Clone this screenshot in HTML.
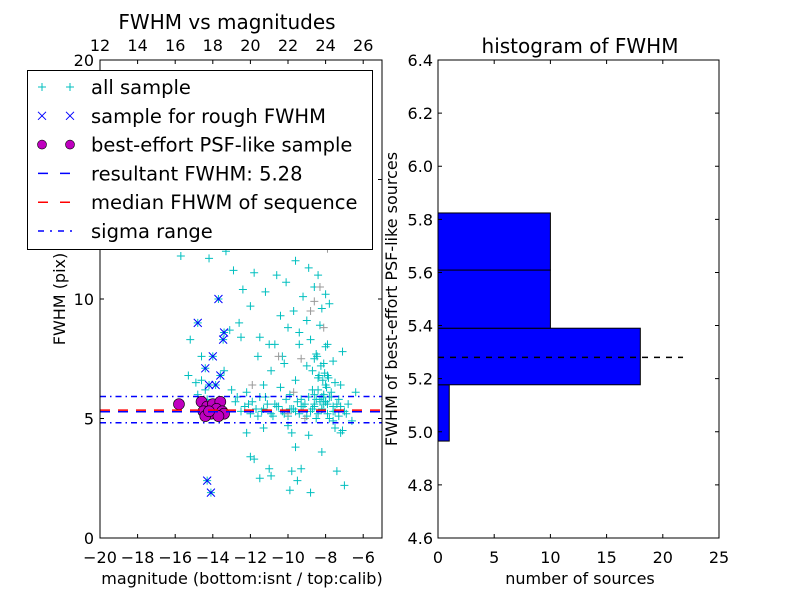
<!DOCTYPE html>
<html><head><meta charset="utf-8"><style>
body{margin:0;background:#fff}
svg{font-family:"DejaVu Sans","Liberation Sans",sans-serif}
</style></head><body>
<svg id="c" width="800" height="600" xmlns="http://www.w3.org/2000/svg"></svg>
<script>
// Left scatter data
const allMag=[-15.7,-14.2,-13.3,-12.9,-12.4,-11.8,-11.2,-10.6,-10.1,-9.6,-9.2,-8.9,-8.6,-8.4,-8.2,-8.0,-7.8,-15.2,-14.6,-14.9,-14.4,-13.1,-12.6,-12.0,-11.5,-11.0,-10.4,-10.0,-9.7,-9.4,-9.0,-8.8,-8.5,-8.3,-8.1,-7.9,-7.6,-8.7,-8.45,-8.35,-8.25,-8.15,-8.05,-7.95,-7.85,-8.6,-8.4,-8.2,-8.0,-7.7,-7.5,-8.5,-8.3,-8.1,-7.9,-7.8,-8.6,-8.2,-8.0,-7.6,-7.3,-6.8,-12.3,-12.0,-11.7,-11.4,-11.1,-10.8,-10.5,-10.2,-9.9,-9.6,-9.3,-9.0,-8.7,-8.4,-8.1,-7.8,-7.5,-7.2,-6.9,-6.6,-12.5,-12.1,-11.6,-11.3,-10.9,-10.6,-10.3,-10.0,-9.7,-9.4,-9.1,-8.8,-8.5,-8.2,-7.9,-7.6,-7.3,-7.0,-11.9,-11.2,-10.7,-10.1,-9.8,-9.5,-9.2,-8.9,-8.6,-8.3,-8.0,-7.7,-7.4,-12.8,-12.2,-11.5,-10.4,-9.9,-9.3,-8.7,-8.1,-7.2,-6.4,-10.9,-9.6,-9.0,-8.4,-7.9,-11.6,-10.2,-9.4,-8.6,-8.0,-7.1,-12.2,-11.3,-10.0,-9.8,-7.6,-7.1,-11.8,-9.6,-9.3,-8.9,-8.2,-7.5,-11.5,-9.8,-8.8,-12.0,-10.9,-9.5,-7.4,-7.0,-11.0,-9.9,-7.2,-13.4,-12.5,-11.3,-10.7,-10.3,-15.3,-14.8,-14.6,-14.3,-13.0,-12.7,-13.7,-14.8,-13.4,-13.45,-14.0,-14.4,-13.6,-14.2,-13.85,-14.3,-14.1];
const allFwhm=[11.8,11.7,12.0,11.2,10.4,11.1,10.3,11.0,10.7,11.6,10.1,11.3,10.5,11.0,9.6,10.2,9.8,8.3,7.6,6.5,6.2,8.7,9.0,9.7,8.4,8.1,9.3,8.8,9.5,8.6,9.1,8.3,7.7,8.9,7.3,8.1,7.4,7.0,7.6,6.8,7.2,6.6,6.9,6.3,6.7,6.0,6.2,5.9,6.4,6.1,6.5,5.8,5.7,6.0,5.6,5.9,5.5,5.4,5.7,5.3,5.8,5.6,5.5,5.2,5.4,5.3,5.6,5.1,5.5,5.2,5.4,5.3,5.5,5.1,5.4,5.2,5.6,5.0,5.3,5.5,5.2,4.9,5.3,5.6,5.1,5.4,5.2,5.5,5.3,5.1,5.4,5.2,5.6,5.3,5.0,5.4,5.2,5.5,5.1,5.3,5.7,5.9,5.6,5.8,5.4,5.7,5.5,5.9,5.6,5.8,5.7,5.9,5.6,5.7,6.1,5.9,6.3,6.0,5.8,6.2,5.9,6.4,6.1,7.0,6.6,7.2,6.7,6.8,7.6,7.3,8.1,7.5,8.0,7.8,4.4,4.6,4.7,4.4,4.9,4.5,3.3,3.8,2.9,4.3,3.6,4.6,2.5,2.8,1.9,3.4,2.6,2.4,2.8,2.2,2.9,2.0,4.4,7.0,8.4,6.4,8.1,7.6,6.8,6.0,6.6,5.8,6.2,5.9,10.0,9.0,8.6,8.3,7.6,7.1,6.8,6.4,6.4,2.4,1.9];
const greyMag=[-13.6,-11.9,-10.5,-9.7,-9.3,-8.8,-8.3,-8.1,-7.9,-9.1,-10.0,-8.6];
const greyFwhm=[5.6,6.4,7.6,6.1,7.5,9.5,10.5,8.8,12.1,5.0,5.2,9.9];
const roughMag=[-13.7,-14.8,-13.4,-13.45,-14.0,-14.4,-13.6,-14.2,-13.85,-14.3,-14.1];
const roughFwhm=[10.0,9.0,8.6,8.3,7.6,7.1,6.8,6.4,6.4,2.4,1.9];
const bestMag=[-15.8,-14.6,-14.3,-14.0,-13.6,-14.5,-14.1,-13.8,-13.5,-14.4,-13.4,-13.7,-14.2];
const bestFwhm=[5.6,5.7,5.5,5.6,5.7,5.3,5.2,5.4,5.3,5.1,5.2,5.1,5.3];
const resultFwhm=5.28, medianFwhm=5.35, sigmaLo=4.82, sigmaHi=5.92;
// histogram data
const binEdges=[4.965,5.177,5.39,5.609,5.824];
const binCounts=[1,18,10,10];
const leftXTicks=[-20,-18,-16,-14,-12,-10,-8,-6];
const leftXLabels=["\u221220","\u221218","\u221216","\u221214","\u221212","\u221210","\u22128","\u22126"];
const topTicks=[12,14,16,18,20,22,24,26];
const leftYTicks=[0,5,10,15,20];
const rightYTicks=[4.6,4.8,5.0,5.2,5.4,5.6,5.8,6.0,6.2,6.4];
const rightXTicks=[0,5,10,15,20,25];

const S=document.getElementById('c');const NS='http://www.w3.org/2000/svg';
function mk(t,a,p){const e=document.createElementNS(NS,t);for(const k in a)e.setAttribute(k,a[k]);(p||S).appendChild(e);return e;}
function tx(x,y,s,str,anchor,extra,p){const e=mk('text',Object.assign({x:x,y:y,'font-size':s,'text-anchor':anchor||'middle',fill:'#000'},extra||{}),p);e.textContent=str;return e;}
// left axes
const L={x0:100,x1:382,y0:60,y1:538};
const lx=v=>L.x0+(v+20)/15*(L.x1-L.x0);
const tX=v=>L.x0+(v-12)/15*(L.x1-L.x0);
const ly=v=>L.y1-v/20*(L.y1-L.y0);
const gL=mk('g',{});

mk('rect',{x:L.x0,y:L.y0,width:L.x1-L.x0,height:L.y1-L.y0,fill:'#fff'},gL);
function plus(g,x,y,c){mk('path',{d:`M${x-4},${y}h8M${x},${y-4}v8`,stroke:c,'stroke-width':1,fill:'none'},g);}
const gA=mk('g',{},gL);
for(let i=0;i<allMag.length;i++)plus(gA,lx(allMag[i]),ly(allFwhm[i]),'#00bfbf');
for(let i=0;i<greyMag.length;i++)plus(gA,lx(greyMag[i]),ly(greyFwhm[i]),'#999');
function hl(v,col,dash,name){const e=mk('line',{x1:L.x0,x2:L.x1,y1:ly(v),y2:ly(v),stroke:col,'stroke-width':1.5,'stroke-dasharray':dash},gL);}
hl(sigmaHi,'#0000ff','6,4,1.5,4','sigma-high-line');hl(sigmaLo,'#0000ff','6,4,1.5,4','sigma-low-line');
const gB=mk('g',{},gL);
for(let i=0;i<bestMag.length;i++)mk('circle',{cx:lx(bestMag[i]),cy:ly(bestFwhm[i]),r:5.5,fill:'#bf00bf',stroke:'#000','stroke-width':0.6},gB);
hl(resultFwhm,'#0000ff','10,8','resultant-fwhm-line');hl(medianFwhm,'#ff0000','10,8','median-fwhm-line');
const gR=mk('g',{},gL);
for(let i=0;i<roughMag.length;i++){const x=lx(roughMag[i]),y=ly(roughFwhm[i]);mk('path',{d:`M${x-4},${y-4}l8,8M${x-4},${y+4}l8,-8`,stroke:'#0000ff','stroke-width':1,fill:'none'},gR);}
mk('rect',{x:L.x0,y:L.y0,width:L.x1-L.x0,height:L.y1-L.y0,fill:'none',stroke:'#000','stroke-width':1},gL);
leftXTicks.forEach((v,i)=>{const x=lx(v);mk('path',{d:`M${x},${L.y1}v-4`,stroke:'#000'},gL);tx(x,563,16,leftXLabels[i]);});
topTicks.forEach(v=>{const x=tX(v);mk('path',{d:`M${x},${L.y0}v4`,stroke:'#000'},gL);tx(x,51,16,String(v));});
leftYTicks.forEach(v=>{const y=ly(v);mk('path',{d:`M${L.x0},${y}h4M${L.x1},${y}h-4`,stroke:'#000'},gL);tx(94,y+6,16,String(v),'end');});
tx(242,584,16,'magnitude (bottom:isnt / top:calib)');
tx(227,29,20,'FWHM vs magnitudes');
tx(0,0,16,'FWHM (pix)','middle',{transform:'translate(65,299) rotate(-90)'});
// right histogram
const R={x0:438,x1:719,y0:60,y1:538};
const rx=v=>R.x0+v/25*(R.x1-R.x0);
const ry=v=>R.y1-(v-4.6)/1.8*(R.y1-R.y0);
const gH=mk('g',{});
binCounts.forEach((c,i)=>{const b=mk('rect',{x:rx(0),y:ry(binEdges[i+1]),width:rx(c)-rx(0),height:ry(binEdges[i])-ry(binEdges[i+1]),fill:'#0000ff',stroke:'#000','stroke-width':1},gH);});
const dl=mk('line',{x1:rx(0),x2:rx(21.8),y1:ry(resultFwhm),y2:ry(resultFwhm),stroke:'#000','stroke-width':1.5,'stroke-dasharray':'6,6'},gH);
mk('rect',{x:R.x0,y:R.y0,width:R.x1-R.x0,height:R.y1-R.y0,fill:'none',stroke:'#000'},gH);
rightXTicks.forEach(v=>{const x=rx(v);mk('path',{d:`M${x},${R.y1}v-4M${x},${R.y0}v4`,stroke:'#000'},gH);tx(x,563,16,String(v));});
rightYTicks.forEach(v=>{const y=ry(v);mk('path',{d:`M${R.x0},${y}h4M${R.x1},${y}h-4`,stroke:'#000'},gH);tx(433,y+6,16,v.toFixed(1),'end');});
tx(580,53,20,'histogram of FWHM');
tx(580,584,16,'number of sources');
tx(0,0,16,'FWHM of best-effort PSF-like sources','middle',{transform:'translate(397,299) rotate(-90)'});
// legend (drawn last, on top)
const lg=mk('g',{});
mk('rect',{x:27.5,y:70.5,width:345,height:179,fill:'#fff',stroke:'#000','stroke-width':1},lg);
const ent=['all sample','sample for rough FWHM','best-effort PSF-like sample','resultant FWHM: 5.28','median FHWM of sequence','sigma range'];
ent.forEach((t,i)=>{const y=87+i*28.8;const e=tx(91,y+7,19.5,t,'start',{},lg);
 [42,70].forEach(x=>{if(i==0)plus(lg,x,y,'#00bfbf');if(i==1)mk('path',{d:`M${x-4},${y-4}l8,8M${x-4},${y+4}l8,-8`,stroke:'#0000ff','stroke-width':1},lg);if(i==2)mk('circle',{cx:x,cy:y,r:4.5,fill:'#bf00bf',stroke:'#000','stroke-width':0.6},lg);});
 if(i==3)mk('path',{d:`M38,${y}h10M60,${y}h10`,stroke:'#0000ff','stroke-width':1.5},lg);
 if(i==4)mk('path',{d:`M38,${y}h10M60,${y}h10`,stroke:'#ff0000','stroke-width':1.5},lg);
 if(i==5)mk('path',{d:`M38,${y}h6M50,${y}h2M58,${y}h6M70,${y}h2`,stroke:'#0000ff','stroke-width':1.5},lg);});
</script>
</body></html>
